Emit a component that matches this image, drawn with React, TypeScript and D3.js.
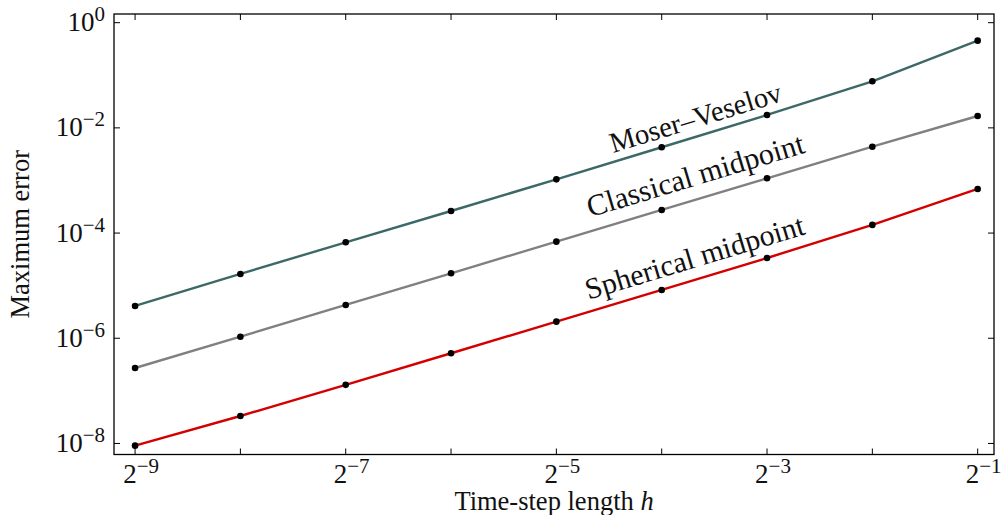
import React from "react";
import * as d3 from "d3";

// ---- data ----
const stepExponents = [-9, -8, -7, -6, -5, -4, -3, -2, -1];
const steps = [2 ** -9, 2 ** -8, 2 ** -7, 2 ** -6, 2 ** -5, 2 ** -4, 2 ** -3, 2 ** -2, 2 ** -1];
const moserVeselov = [4.11e-6, 1.67e-5, 6.68e-5, 2.63e-4, 1.05e-3, 4.28e-3, 1.76e-2, 7.69e-2, 0.455];
const classicalMidpoint = [2.72e-7, 1.07e-6, 4.3e-6, 1.72e-5, 6.87e-5, 2.75e-4, 1.1e-3, 4.39e-3, 1.68e-2];
const sphericalMidpoint = [9.08e-9, 3.33e-8, 1.3e-7, 5.19e-7, 2.07e-6, 8.28e-6, 3.36e-5, 1.43e-4, 6.89e-4];
const seriesNames = ["Moser\u2013Veselov", "Classical midpoint", "Spherical midpoint"];
const labelH = [2 ** -3.653, 2 ** -3.653, 2 ** -3.66];
const labelV = [10 ** -1.983, 10 ** -3.084, 10 ** -4.643];
const yTickExponents = [0, -2, -4, -6, -8];
const xTickLabelExponents = [-9, -7, -5, -3, -1];

// ---- styling ----
const seriesColors = ["#3d6868", "#808080", "#d40000"];
const labelFontSizes = [28.7, 30.2, 29.8];
const W = 1005;
const H = 515;
const m = { left: 114, top: 14, right: 11, bottom: 60.5 };
const FONT = "Liberation Serif";

export default function App() {
  const x = d3.scaleLog().base(2).domain([2 ** -9.2, 2 ** -0.845]).range([m.left, W - m.right]);
  const y = d3.scaleLog().domain([10 ** -8.21, 10 ** 0.165]).range([H - m.bottom, m.top]);
  const line = d3
    .line<number>()
    .x((_, i) => x(steps[i]))
    .y((d) => y(d));
  const all = [moserVeselov, classicalMidpoint, sphericalMidpoint];
  const x0 = m.left, x1 = W - m.right, y0 = m.top, y1 = H - m.bottom;
  const tl = 6;
  const txt = { fontFamily: FONT };

  return (
    <svg width={W} height={H} style={{ position: "absolute", left: 0, top: 0, background: "#fff" }}>
      <rect x={0} y={0} width={W} height={H} fill="#fff" />
      {all.map((s, k) => (
        <path key={k} d={line(s) || ""} fill="none" stroke={seriesColors[k]} strokeWidth={2.4} />
      ))}
      {all.map((s, k) =>
        s.map((v, i) => <circle key={k + "-" + i} cx={x(steps[i])} cy={y(v)} r={3.3} fill="#000" />)
      )}
      {all.map((s, k) => {
        const a = Math.atan2(y(s[6]) - y(s[4]), x(steps[6]) - x(steps[4])) * 180 / Math.PI;
        const lx = x(labelH[k]);
        const ly = y(labelV[k]);
        return (
          <text key={k} x={lx} y={ly} fontSize={labelFontSizes[k]} textAnchor="middle" style={txt} transform={`rotate(${a},${lx},${ly})`} fill="#111">
            {seriesNames[k]}
          </text>
        );
      })}
      {/* frame */}
      <rect x={x0} y={y0} width={x1 - x0} height={y1 - y0} fill="none" stroke="#000" strokeWidth={1.3} />
      {/* x ticks */}
      {stepExponents.map((e) => {
        const px = x(2 ** e);
        return (
          <g key={e}>
            <line x1={px} x2={px} y1={y1} y2={y1 - tl} stroke="#000" strokeWidth={1} />
            <line x1={px} x2={px} y1={y0} y2={y0 + tl} stroke="#000" strokeWidth={1} />
          </g>
        );
      })}
      {xTickLabelExponents.map((e) => {
        const px = x(2 ** e);
        return (
          <text key={e} x={px + 6} y={482.5} fontSize={27} textAnchor="middle" style={txt} fill="#111">
            2<tspan fontSize={21} dy={-10}>{"\u2212" + Math.abs(e)}</tspan>
          </text>
        );
      })}
      {/* y ticks */}
      {yTickExponents.map((e) => {
        const py = y(10 ** e);
        return (
          <g key={e}>
            <line x1={x0} x2={x0 + tl} y1={py} y2={py} stroke="#000" strokeWidth={1} />
            <line x1={x1} x2={x1 - tl} y1={py} y2={py} stroke="#000" strokeWidth={1} />
            <text x={105} y={py + 8.6} fontSize={27} textAnchor="end" style={txt} fill="#111">
              10<tspan fontSize={21} dy={-10}>{e === 0 ? "0" : "\u2212" + Math.abs(e)}</tspan>
            </text>
          </g>
        );
      })}
      <text x={(x0 + x1) / 2} y={510} fontSize={26.5} textAnchor="middle" style={txt} fill="#111">
        Time-step length <tspan fontStyle="italic">h</tspan>
      </text>
      <text x={29} y={(y0 + y1) / 2} fontSize={26.5} textAnchor="middle" style={txt} fill="#111" transform={`rotate(-90,29,${(y0 + y1) / 2})`}>
        Maximum error
      </text>
    </svg>
  );
}
